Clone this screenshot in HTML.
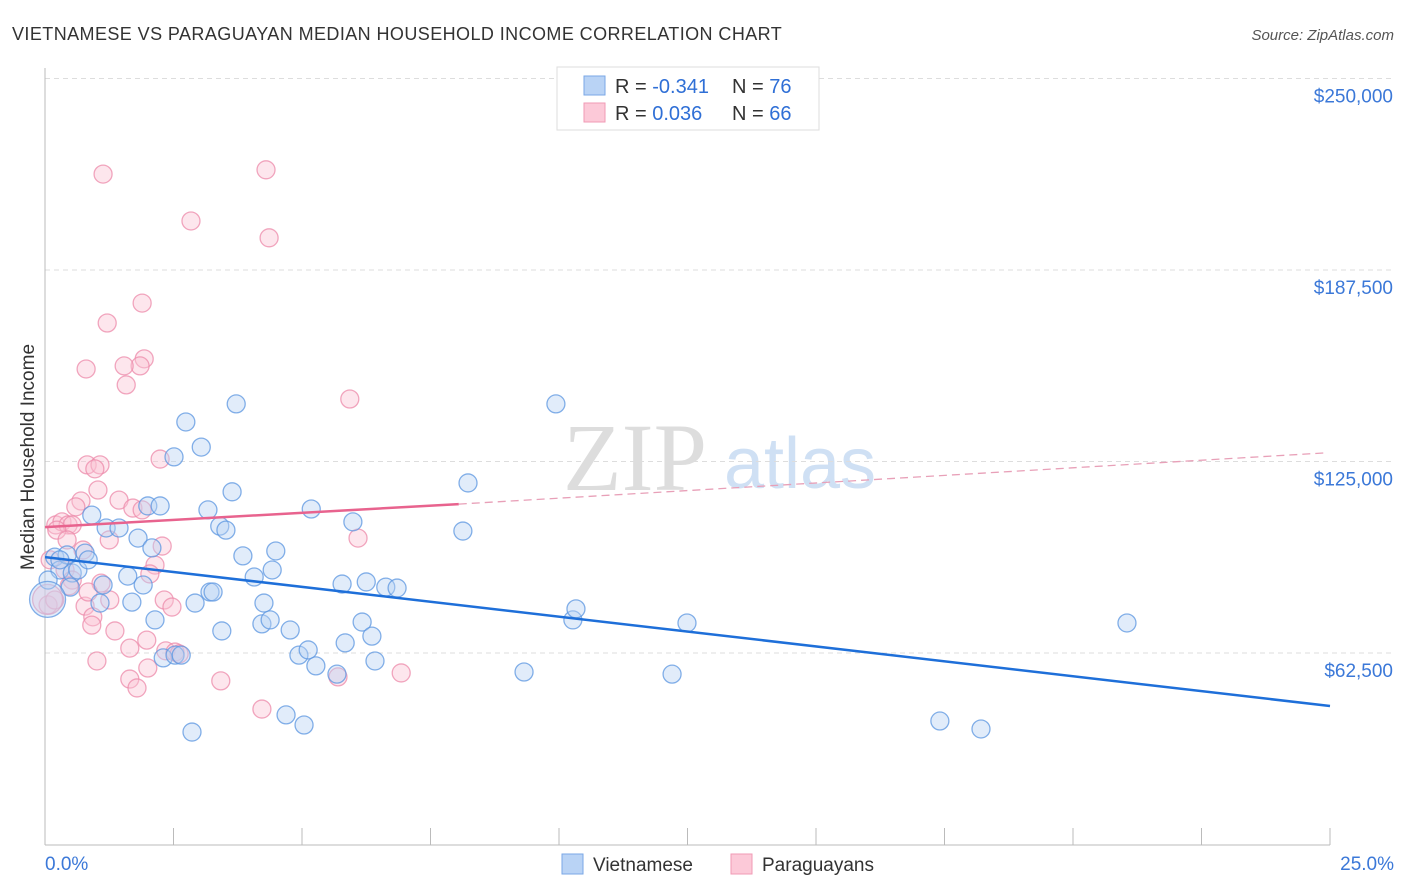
<!DOCTYPE html>
<html><head><meta charset="utf-8"><style>
body{margin:0;background:#fff;font-family:"Liberation Sans",sans-serif}
svg{display:block}
</style></head><body>
<svg id="chart" width="1406" height="892" xmlns="http://www.w3.org/2000/svg">
<text x="12" y="40" font-size="18" letter-spacing="0.42" fill="#333">VIETNAMESE VS PARAGUAYAN MEDIAN HOUSEHOLD INCOME CORRELATION CHART</text>
<text x="1394" y="40" font-size="15" fill="#555" font-style="italic" text-anchor="end">Source: ZipAtlas.com</text>
<g>
<text x="635" y="490" font-size="96" fill="#ddd" font-family="Liberation Serif,serif" text-anchor="middle">ZIP</text>
<text x="800" y="488" font-size="72" fill="#cfe0f4" text-anchor="middle">atlas</text>
</g>
<g id="grid"></g>
<g id="axes"></g>
<g id="marks"></g>
<text transform="translate(34,457) rotate(-90)" font-size="19" fill="#333" text-anchor="middle">Median Household Income</text>
<g>
<rect x="557" y="67" width="262" height="63" fill="#fff" stroke="#ddd"/>
<rect x="584" y="76" width="21" height="19" fill="#b9d3f5" stroke="#7aa7e6"/>
<rect x="584" y="103" width="21" height="19" fill="#fcc9d8" stroke="#f09ab5"/>
<text x="615" y="93" font-size="20" fill="#333">R = <tspan fill="#2f6fd6">-0.341</tspan></text>
<text x="732" y="93" font-size="20" fill="#333">N = <tspan fill="#2f6fd6">76</tspan></text>
<text x="615" y="120" font-size="20" fill="#333">R = <tspan fill="#2f6fd6"> 0.036</tspan></text>
<text x="732" y="120" font-size="20" fill="#333">N = <tspan fill="#2f6fd6">66</tspan></text>
</g>
<g>
<rect x="562" y="854" width="21" height="20" fill="#b9d3f5" stroke="#7aa7e6"/>
<text x="593" y="871" font-size="19" fill="#333">Vietnamese</text>
<rect x="731" y="854" width="21" height="20" fill="#fcc9d8" stroke="#f09ab5"/>
<text x="762" y="871" font-size="19" fill="#333">Paraguayans</text>
</g>
</svg>
<script>
const yTicks=[62500,125000,187500,250000];
const yTickLabels=["$62,500","$125,000","$187,500","$250,000"];
const xTickLabels=["0.0%","25.0%"];
const blueX=[0.19,0.29,0.43,0.53,0.64,0.78,0.84,0.91,1.07,1.13,1.19,1.44,1.61,1.69,1.81,1.91,2.00,2.08,2.14,2.24,2.30,2.51,2.53,2.65,2.74,2.92,3.04,3.17,3.21,3.27,3.40,3.44,3.52,3.64,3.72,3.85,4.07,4.22,4.26,4.38,4.42,4.49,4.69,4.77,4.94,5.04,5.12,5.18,5.27,5.68,5.78,5.84,5.99,6.17,6.25,6.36,6.42,6.63,6.85,8.13,8.23,9.32,9.94,10.27,10.33,12.20,12.49,17.41,18.21,21.05,2.86,0.06,0.29,0.49,0.05];
const blueY=[93.8,89.6,94.5,88.6,89.6,95.1,92.9,107.5,78.8,84.7,103.3,103.3,87.6,79.1,100.0,84.7,110.5,96.8,73.3,110.5,60.9,126.5,61.8,61.8,137.9,78.8,129.7,109.2,82.4,82.4,103.9,69.7,102.6,115.1,143.8,94.2,87.3,72.0,78.8,73.3,89.6,95.8,42.3,70.0,61.8,39.0,63.5,109.5,58.3,55.6,85.0,65.8,105.3,72.6,85.7,68.0,59.9,84.0,83.7,102.3,118.0,56.3,143.8,73.3,76.9,55.6,72.3,40.3,37.7,72.3,36.7,86.3,92.9,84.0,80.0];
const blueSize=[9,9,9,9,9,9,9,9,9,9,9,9,9,9,9,9,9,9,9,9,9,9,9,9,9,9,9,9,9,9,9,9,9,9,9,9,9,9,9,9,9,9,9,9,9,9,9,9,9,9,9,9,9,9,9,9,9,9,9,9,9,9,9,9,9,9,9,9,9,9,9,9,9,9,18];
const pinkX=[1.13,4.30,2.84,4.36,1.89,1.21,1.93,0.80,1.85,1.54,1.58,5.93,0.82,1.07,2.24,0.97,1.03,0.70,1.44,0.60,1.71,1.89,0.21,0.33,0.45,0.53,0.23,0.43,0.74,0.39,0.53,1.25,2.28,6.09,2.14,2.04,1.09,0.47,0.06,0.78,0.93,0.91,1.36,1.98,2.32,2.47,1.65,2.35,2.53,2.61,1.01,2.00,1.65,3.42,6.93,5.70,1.79,4.22,0.19,0.10,0.84,1.26,0.05];
const pinkY=[218.8,220.2,203.5,198.0,176.7,170.2,158.5,155.2,156.2,156.2,150.0,145.4,123.9,123.9,125.8,122.6,115.7,112.1,112.4,110.2,109.8,109.2,104.3,105.3,104.3,104.3,102.6,99.4,96.1,89.6,86.3,99.4,97.4,100.0,91.2,88.3,85.3,84.4,78.2,77.8,74.3,71.6,69.7,66.7,79.8,77.5,64.1,63.2,62.8,62.2,59.9,57.6,54.0,53.4,56.0,54.7,51.1,44.2,79.8,92.9,82.4,79.8,80.0];
const pinkSize=[9,9,9,9,9,9,9,9,9,9,9,9,9,9,9,9,9,9,9,9,9,9,9,9,9,9,9,9,9,9,9,9,9,9,9,9,9,9,9,9,9,9,9,9,9,9,9,9,9,9,9,9,9,9,9,9,9,9,9,9,9,9,15];
const blueTrendX=[0,25];
const blueTrendY=[93.8,45.2];
const pinkTrendX=[0,8.05];
const pinkTrendY=[103.6,111.1];
const pinkDashX=[8.05,24.9];
const pinkDashY=[111.1,127.8];

const NS="http://www.w3.org/2000/svg";
const X=p=>45+p*1285/25;
const Y=v=>844.5-v*191.5/62500;
const Yk=k=>Y(k*1000);
function mk(tag,attrs,parent){const e=document.createElementNS(NS,tag);for(const k in attrs)e.setAttribute(k,attrs[k]);parent.appendChild(e);return e;}
const grid=document.getElementById('grid'),axes=document.getElementById('axes'),marks=document.getElementById('marks');
yTicks.forEach((t,i)=>{
 const l=mk('line',{x1:45,x2:1394,y1:Y(t),y2:Y(t),stroke:'#ddd','stroke-dasharray':'5,4'},grid);
 
 
 const tx=mk('text',{x:1393,y:Y(t)+24,'font-size':19,fill:'#3b78d8','text-anchor':'end'},axes);
 tx.textContent=yTickLabels[i];
 
 
});
const xa=mk('line',{x1:45,x2:1330,y1:845,y2:845,stroke:'#bbb'},axes);


const ya=mk('line',{x1:45,x2:45,y1:68,y2:845,stroke:'#bbb'},axes);


for(let i=0;i<=10;i++){
 const t=mk('line',{x1:X(i*2.5),x2:X(i*2.5),y1:828,y2:845,stroke:'#bbb'},axes);
 
 
}
[[0,'start',45],[25,'end',1394]].forEach((d,i)=>{
 const t=mk('text',{x:d[2],y:870,'font-size':19,fill:'#3b78d8','text-anchor':d[1]},axes);
 t.textContent=xTickLabels[i];
 
 
});
function pts(xs,ys,ss,fill,stroke,name){
 xs.forEach((x,i)=>{
  const c=mk('circle',{cx:X(x),cy:Yk(ys[i]),r:ss[i],fill:fill,'fill-opacity':0.42,stroke:stroke,'stroke-width':1.3,'stroke-opacity':0.75},marks);
  
  
 });
}
pts(pinkX,pinkY,pinkSize,'#fbc3d4','#ec89a9','paraguayan-point');
pts(blueX,blueY,blueSize,'#b7d1f3','#5b95e0','vietnamese-point');
const bl=mk('line',{x1:X(blueTrendX[0]),y1:Yk(blueTrendY[0]),x2:X(blueTrendX[1]),y2:Yk(blueTrendY[1]),stroke:'#1e6fd9','stroke-width':2.5},marks);


const pl=mk('line',{x1:X(pinkTrendX[0]),y1:Yk(pinkTrendY[0]),x2:X(pinkTrendX[1]),y2:Yk(pinkTrendY[1]),stroke:'#e8638e','stroke-width':2.5},marks);


const pd=mk('line',{x1:X(pinkDashX[0]),y1:Yk(pinkDashY[0]),x2:X(pinkDashX[1]),y2:Yk(pinkDashY[1]),stroke:'#e8a0b8','stroke-width':1.3,'stroke-dasharray':'8,5'},marks);


</script>
</body></html>
